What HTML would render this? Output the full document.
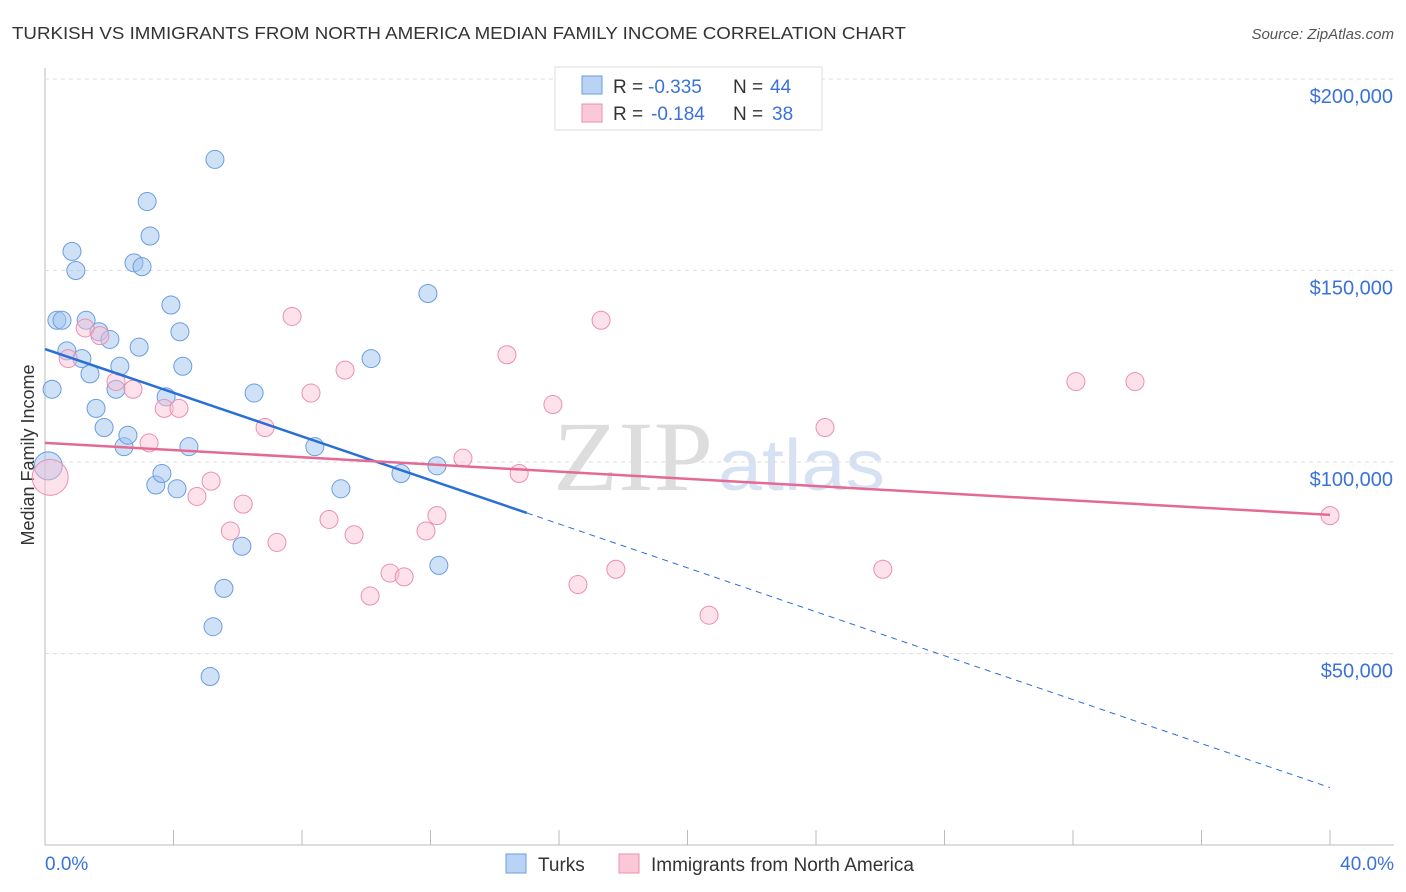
<!DOCTYPE html>
<html><head><meta charset="utf-8"><style>
body{margin:0;background:#fff;font-family:"Liberation Sans",sans-serif;}
#wrap{position:relative;width:1406px;height:892px;overflow:hidden;}
</style></head><body>
<div id="wrap">
<svg id="chart" width="1406" height="892">
<text x="12" y="39" font-size="17.5" fill="#333" textLength="894" lengthAdjust="spacingAndGlyphs">TURKISH VS IMMIGRANTS FROM NORTH AMERICA MEDIAN FAMILY INCOME CORRELATION CHART</text>
<text x="1394" y="39" font-size="15" fill="#555" text-anchor="end" font-style="italic">Source: ZipAtlas.com</text>
<text x="553" y="490" font-size="100" fill="#ddd" font-family="Liberation Serif,serif" textLength="160" lengthAdjust="spacingAndGlyphs">ZIP</text>
<text x="718" y="490" font-size="72" fill="#d6e2f3" textLength="167" lengthAdjust="spacingAndGlyphs">atlas</text>
<text x="34" y="455" font-size="18" fill="#333" text-anchor="middle" transform="rotate(-90 34 455)">Median Family Income</text>
<g id="grid"></g><g id="marks"></g>
<g>
<rect x="555" y="67" width="267" height="63" fill="#fff" stroke="#ddd"/>
<rect x="582" y="76" width="20" height="18" fill="#b9d3f5" stroke="#6a9de0"/>
<rect x="582" y="104" width="20" height="18" fill="#fbc8d8" stroke="#ec8fae"/>
<text x="613" y="93" font-size="19" fill="#333">R =</text>
<text x="648" y="93" font-size="19" fill="#3a72d8">-0.335</text>
<text x="733" y="93" font-size="19" fill="#333">N =</text>
<text x="770" y="93" font-size="19" fill="#3a72d8">44</text>
<text x="613" y="120" font-size="19" fill="#333">R =</text>
<text x="651" y="120" font-size="19" fill="#3a72d8">-0.184</text>
<text x="733" y="120" font-size="19" fill="#333">N =</text>
<text x="772" y="120" font-size="19" fill="#3a72d8">38</text>
</g>
<g>
<rect x="506" y="854" width="20" height="19" fill="#b9d3f5" stroke="#6a9de0"/>
<text x="538" y="871" font-size="19" fill="#333">Turks</text>
<rect x="619" y="854" width="20" height="19" fill="#fbc8d8" stroke="#ec8fae"/>
<text x="651" y="871" font-size="19" fill="#333">Immigrants from North America</text>
</g>
</svg></div>
<script>
const yTicks=[50000,100000,150000,200000];
const yTickLabels=["$50,000","$100,000","$150,000","$200,000"];
const xTickLabels=["0.0%","40.0%"];
const turksX=[0.22,0.1,0.37,0.53,0.68,0.84,0.96,1.15,1.28,1.4,1.59,1.68,1.84,2.02,2.21,2.33,2.46,2.58,2.77,2.93,3.02,3.18,3.27,3.45,3.64,3.77,3.92,4.11,4.2,4.29,4.48,5.29,5.23,5.14,5.57,6.13,6.51,8.4,9.21,10.15,11.08,11.92,12.2,12.26];
const turksY=[119000,99000,137000,137000,129000,155000,150000,127000,137000,123000,114000,134000,109000,132000,119000,125000,104000,107000,152000,130000,151000,168000,159000,94000,97000,117000,141000,93000,134000,125000,104000,179000,57000,44000,67000,78000,118000,104000,93000,127000,97000,144000,99000,73000];
const naX=[0.16,0.72,1.25,1.71,2.21,2.74,3.24,3.71,4.17,4.73,5.17,5.77,6.17,6.85,7.22,7.69,8.28,8.84,9.34,9.62,10.12,10.74,11.18,11.86,12.2,13.01,14.38,14.76,15.81,16.59,17.31,17.77,20.67,24.28,26.08,32.09,33.93,40.0];
const naY=[96000,127000,135000,133000,121000,119000,105000,114000,114000,91000,95000,82000,89000,109000,79000,138000,118000,85000,124000,81000,65000,71000,70000,82000,86000,101000,128000,97000,115000,68000,137000,72000,60000,109000,72000,121000,121000,86000];
const turksTrend=[[0,129500],[15,86700],[40,15000]];
const naTrend=[[0,105000],[40,86200]];
const X=v=>45+v/40*1285, Y=v=>845-v/50000*191.5;
const ns="http://www.w3.org/2000/svg";
function mk(t,a,p){const e=document.createElementNS(ns,t);for(const k in a)e.setAttribute(k,a[k]);p.appendChild(e);return e;}
const g=document.getElementById('grid'),m=document.getElementById('marks');
mk('line',{x1:45,y1:845,x2:1394,y2:845,stroke:'#bbb'},g);
mk('line',{x1:45,y1:68,x2:45,y2:845,stroke:'#bbb'},g);
mk('line',{x1:45,y1:79,x2:1394,y2:79,stroke:'#ddd','stroke-dasharray':'4,4'},g);
for(let i=0;i<=10;i++){const l=mk('line',{x1:X(i*4),y1:830,x2:X(i*4),y2:845,stroke:'#bbb'},g);

}
yTicks.forEach((v,i)=>{mk('line',{x1:45,y1:Y(v),x2:1394,y2:Y(v),stroke:'#ddd','stroke-dasharray':'4,4'},g);
const t=mk('text',{x:1393,y:Y(v)+24,'font-size':20,fill:'#3a72d8','text-anchor':'end'},g);t.textContent=yTickLabels[i];

});
[[0,45,'start'],[1,1394,'end']].forEach(([i,x,a])=>{const t=mk('text',{x:x,y:870,'font-size':19,fill:'#3a72d8','text-anchor':a},g);t.textContent=xTickLabels[i];

});
turksX.forEach((x,i)=>{const r=i==1?14:9;const c=mk('circle',{cx:X(x),cy:Y(turksY[i]),r:r,fill:'rgba(160,196,240,0.5)',stroke:'#6a9de0','stroke-width':1},m);

});
naX.forEach((x,i)=>{const r=i==0?18:9;const c=mk('circle',{cx:X(x),cy:Y(naY[i]),r:r,fill:'rgba(250,190,210,0.45)',stroke:'#ec8fae','stroke-width':1},m);

});
let l1=mk('line',{x1:X(turksTrend[0][0]),y1:Y(turksTrend[0][1]),x2:X(turksTrend[1][0]),y2:Y(turksTrend[1][1]),stroke:'#2a6fd6','stroke-width':2.5},m);


let l2=mk('line',{x1:X(turksTrend[1][0]),y1:Y(turksTrend[1][1]),x2:X(turksTrend[2][0]),y2:Y(turksTrend[2][1]),stroke:'#2a6fd6','stroke-width':1,'stroke-dasharray':'6,5'},m);


let l3=mk('line',{x1:X(naTrend[0][0]),y1:Y(naTrend[0][1]),x2:X(naTrend[1][0]),y2:Y(naTrend[1][1]),stroke:'#e46a94','stroke-width':2.5},m);


</script>
</body></html>
